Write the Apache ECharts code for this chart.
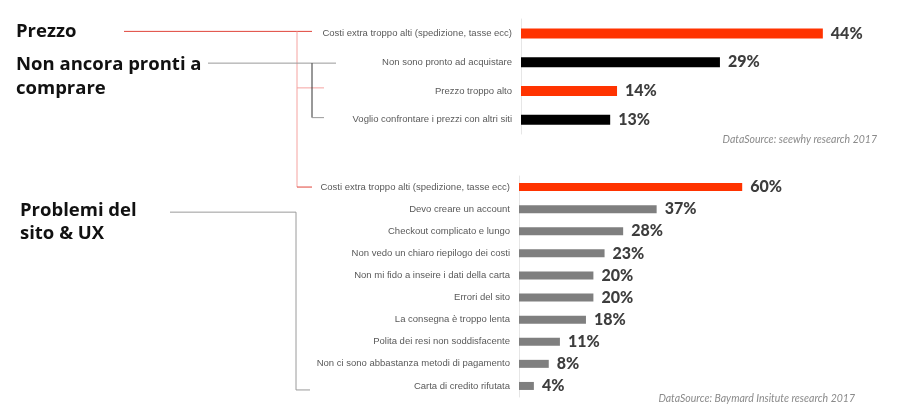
<!DOCTYPE html>
<html>
<head>
<meta charset="utf-8">
<script src="https://cdn.jsdelivr.net/npm/echarts@6/dist/echarts.min.js"></script>
<style>html,body{margin:0;padding:0;background:#fff}#c{width:900px;height:413px}</style>
</head>
<body>
<div id="c"></div>
<script>
// ---- data ----
const topCategories = ['Costi extra troppo alti (spedizione, tasse ecc)', 'Non sono pronto ad acquistare', 'Prezzo troppo alto', 'Voglio confrontare i prezzi con altri siti'];
const topValues = [44, 29, 14, 13];
const topGroup = ['prezzo', 'pronti', 'prezzo', 'pronti'];
const bottomCategories = ['Costi extra troppo alti (spedizione, tasse ecc)', 'Devo creare un account', 'Checkout complicato e lungo', 'Non vedo un chiaro riepilogo dei costi', 'Non mi fido a inseire i dati della carta', 'Errori del sito', 'La consegna è troppo lenta', 'Polita dei resi non soddisfacente', 'Non ci sono abbastanza metodi di pagamento', 'Carta di credito rifutata'];
const bottomValues = [60, 37, 28, 23, 20, 20, 18, 11, 8, 4];
const bottomGroup = ['prezzo', 'ux', 'ux', 'ux', 'ux', 'ux', 'ux', 'ux', 'ux', 'ux'];
const sourceTop = 'DataSource: seewhy research 2017';
const sourceBottom = 'DataSource: Baymard Insitute research 2017';

const groupColor = { prezzo: '#FF3300', pronti: '#000000', ux: '#7F7F7F' };
const catFont = "'Liberation Sans Narrow', 'Liberation Sans', sans-serif";
const boldFont = "Lato, 'Open Sans', sans-serif";
const titleFont = "'Open Sans', Lato, sans-serif";

const chart = echarts.init(document.getElementById('c'));

function catAxis(idx, data) {
  return {
    type: 'category', gridIndex: idx, data: data, inverse: true,
    axisTick: { show: false },
    axisLine: { show: true, lineStyle: { color: '#e6e6e6', width: 1 } },
    axisLabel: { fontSize: 9.5, color: '#595959', margin: 9, fontFamily: catFont }
  };
}
function valAxis(idx, max) {
  return { type: 'value', gridIndex: idx, min: 0, max: max, show: false };
}
function barSeries(idx, values, groups, width) {
  return {
    type: 'bar', xAxisIndex: idx, yAxisIndex: idx, data: values, barWidth: width,
    itemStyle: { color: p => groupColor[groups[p.dataIndex]] },
    label: { show: true, position: 'right', distance: 8, formatter: '{c}%',
      fontSize: 16, fontWeight: 900, color: '#3d3d3d', fontFamily: boldFont },
    silent: true, animation: false
  };
}

chart.setOption({
  animation: false,
  grid: [
    { left: 521, top: 19, width: 343, height: 115 },
    { left: 519, top: 176, width: 372, height: 221 }
  ],
  xAxis: [valAxis(0, 50), valAxis(1, 100)],
  yAxis: [catAxis(0, topCategories), catAxis(1, bottomCategories)],
  series: [barSeries(0, topValues, topGroup, 10), barSeries(1, bottomValues, bottomGroup, 8)]
});

function cy(gridIdx, i, cats) {
  return chart.convertToPixel({ yAxisIndex: gridIdx }, cats[i]);
}
const yT = topCategories.map((c, i) => cy(0, i, topCategories));
const yB = bottomCategories.map((c, i) => cy(1, i, bottomCategories));

function line(x1, y1, x2, y2, color) {
  return { type: 'line', shape: { x1, y1, x2, y2 }, style: { stroke: color, lineWidth: 1 }, silent: true };
}
function txt(x, y, text, style) {
  return { type: 'text', x, y, style: Object.assign({ text, fill: '#111', fontFamily: titleFont, fontWeight: 'bold', fontSize: 18.5, textVerticalAlign: 'middle' }, style), silent: true };
}

const redDark = '#E0443A', redLight = '#F5A3A0', grayL = '#9A9A9A', blackL = '#333333';
const graphic = [
  // Prezzo connectors
  line(124, yT[0] - 2, 312, yT[0] - 2, redDark),
  line(297, yT[0] - 2, 297, yB[0], redLight),
  line(297, yB[0], 312, yB[0], redDark),
  line(297, yT[2] - 3, 324, yT[2] - 3, redLight),
  // Non ancora pronti connectors
  line(208, yT[1] + 1, 336, yT[1] + 1, grayL),
  line(312, yT[1] + 1, 312, yT[3] - 2, blackL),
  line(312, yT[3] - 2, 324, yT[3] - 2, grayL),
  // Problemi connectors
  line(170, yB[1] + 3, 296, yB[1] + 3, grayL),
  line(296, yB[1] + 3, 296, yB[9] + 4, grayL),
  line(296, yB[9] + 4, 310, yB[9] + 4, grayL),
  // group titles
  txt(16, 32, 'Prezzo'),
  txt(16, 65, 'Non ancora pronti a'),
  txt(16, 89, 'comprare'),
  txt(20, 211, 'Problemi del'),
  txt(20, 234, 'sito & UX'),
  // sources
  txt(877, 140, sourceTop, { fontFamily: boldFont, fontSize: 10.5, fontWeight: 'normal', fontStyle: 'italic', fill: '#8a8a8a', textAlign: 'right' }),
  txt(855, 399, sourceBottom, { fontFamily: boldFont, fontSize: 10.5, fontWeight: 'normal', fontStyle: 'italic', fill: '#8a8a8a', textAlign: 'right' })
];
chart.setOption({ graphic: graphic });
</script>
</body>
</html>
